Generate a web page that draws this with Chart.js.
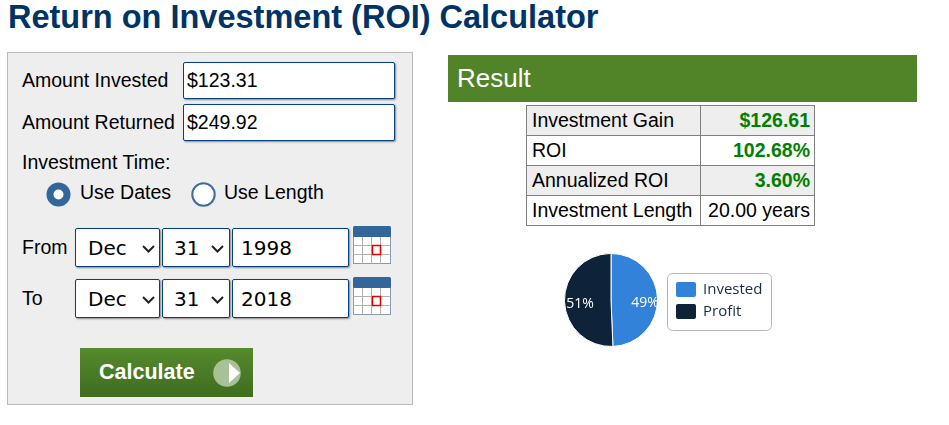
<!DOCTYPE html>
<html>
<head>
<meta charset="utf-8">
<script src="https://cdn.jsdelivr.net/npm/chart.js"></script>
<style>
  body { margin: 0; background: #fff; width: 949px; height: 425px; overflow: hidden; position: relative;
         font-family: "Liberation Sans", Arial, sans-serif; }
  .a { position: absolute; white-space: nowrap; line-height: 1; }
  .lbl { font-size: 19.5px; color: #000; }
  .box { position: absolute; box-sizing: border-box; background: #fff; border: 1px solid #044284;
         border-radius: 2px; box-shadow: 1px 1px 2px #888; }
  .mono { font-family: "DejaVu Sans", Verdana, sans-serif; font-size: 20px; color: #000; }
  .cell { position: absolute; box-sizing: border-box; border: 1px solid #808080; height: 31px;
          font-size: 19.5px; line-height: 29px; white-space: nowrap; }
  .cell.l { padding-left: 5px; }
  .cell.r { text-align: right; padding-right: 4px; }
  .g { color: #008000; font-weight: bold; }
</style>
</head>
<body>

<div class="a" style="left:8px;top:0.5px;font-size:32.5px;font-weight:bold;color:#003366;">Return on Investment (ROI) Calculator</div>

<!-- input panel -->
<div style="position:absolute;left:7px;top:52px;width:406px;height:353px;box-sizing:border-box;background:#eee;border:1px solid #bbb;"></div>

<div class="a lbl" style="left:22px;top:70.5px;">Amount Invested</div>
<div class="box" style="left:183px;top:62px;width:212px;height:37px;"></div>
<div class="a lbl" style="left:187px;top:70.5px;">$123.31</div>

<div class="a lbl" style="left:22px;top:112.5px;">Amount Returned</div>
<div class="box" style="left:183px;top:104px;width:212px;height:37px;"></div>
<div class="a lbl" style="left:187px;top:112.5px;">$249.92</div>

<div class="a lbl" style="left:22px;top:152.5px;">Investment Time:</div>

<svg style="position:absolute;left:44px;top:180px;" width="30" height="30">
  <circle cx="14.5" cy="14.5" r="12" fill="#336699"/>
  <circle cx="14.5" cy="14.5" r="5" fill="#fff"/>
</svg>
<div class="a lbl" style="left:80px;top:182.5px;">Use Dates</div>
<svg style="position:absolute;left:189px;top:180px;" width="30" height="30">
  <circle cx="14.5" cy="14.5" r="11.2" fill="#fff" stroke="#3a6ea0" stroke-width="2"/>
</svg>
<div class="a lbl" style="left:224px;top:182.5px;">Use Length</div>

<!-- From row -->
<div class="a lbl" style="left:22px;top:237.5px;">From</div>
<div class="box" style="left:75px;top:228px;width:85px;height:39px;"></div>
<div class="a mono" style="left:88px;top:238px;">Dec</div>
<svg style="position:absolute;left:141px;top:243px;" width="16" height="12"><polyline points="2,3 7.5,8.5 13,3" fill="none" stroke="#222" stroke-width="2"/></svg>
<div class="box" style="left:162px;top:228px;width:68px;height:39px;"></div>
<div class="a mono" style="left:174px;top:238px;">31</div>
<svg style="position:absolute;left:210px;top:243px;" width="16" height="12"><polyline points="2,3 7.5,8.5 13,3" fill="none" stroke="#222" stroke-width="2"/></svg>
<div class="box" style="left:232px;top:228px;width:117px;height:39px;"></div>
<div class="a mono" style="left:241px;top:238px;">1998</div>

<!-- To row -->
<div class="a lbl" style="left:22px;top:288.5px;">To</div>
<div class="box" style="left:75px;top:279px;width:85px;height:39px;"></div>
<div class="a mono" style="left:88px;top:289px;">Dec</div>
<svg style="position:absolute;left:141px;top:294px;" width="16" height="12"><polyline points="2,3 7.5,8.5 13,3" fill="none" stroke="#222" stroke-width="2"/></svg>
<div class="box" style="left:162px;top:279px;width:68px;height:39px;"></div>
<div class="a mono" style="left:174px;top:289px;">31</div>
<svg style="position:absolute;left:210px;top:294px;" width="16" height="12"><polyline points="2,3 7.5,8.5 13,3" fill="none" stroke="#222" stroke-width="2"/></svg>
<div class="box" style="left:232px;top:279px;width:117px;height:39px;"></div>
<div class="a mono" style="left:241px;top:289px;">2018</div>

<!-- calendar icons -->
<svg style="position:absolute;left:353px;top:226px;" width="38" height="38">
  <rect x="0.5" y="10.5" width="37" height="27" fill="#fff" stroke="#8a9bb0"/>
  <path d="M0.5 19.5H37.5M0.5 28.5H37.5M9.5 10.5V37.5M18.5 10.5V37.5M27.5 10.5V37.5" stroke="#b0b0b0" fill="none"/>
  <rect x="0" y="0" width="38" height="11" rx="1.5" fill="#336699"/>
  <rect x="19.5" y="19.5" width="8" height="9" fill="none" stroke="#e00000" stroke-width="1.5"/>
</svg>
<svg style="position:absolute;left:353px;top:277px;" width="38" height="38">
  <rect x="0.5" y="10.5" width="37" height="27" fill="#fff" stroke="#8a9bb0"/>
  <path d="M0.5 19.5H37.5M0.5 28.5H37.5M9.5 10.5V37.5M18.5 10.5V37.5M27.5 10.5V37.5" stroke="#b0b0b0" fill="none"/>
  <rect x="0" y="0" width="38" height="11" rx="1.5" fill="#336699"/>
  <rect x="19.5" y="19.5" width="8" height="9" fill="none" stroke="#e00000" stroke-width="1.5"/>
</svg>

<!-- calculate button -->
<div style="position:absolute;left:80px;top:348px;width:173px;height:49px;background:linear-gradient(#558a2c,#3f6d1f);"></div>
<div class="a" style="left:99px;top:361.5px;font-size:21.5px;font-weight:bold;color:#fff;">Calculate</div>
<svg style="position:absolute;left:212px;top:358px;" width="30" height="30">
  <circle cx="15" cy="15" r="13.8" fill="#a9c196"/>
  <polygon points="17,5 17,25 28,15" fill="#fff"/>
</svg>

<!-- result -->
<div style="position:absolute;left:448px;top:55px;width:469px;height:47px;background:#518428;"></div>
<div class="a" style="left:457px;top:65px;font-size:26px;color:#fff;">Result</div>

<div class="cell l" style="left:526px;top:105px;width:175px;background:#eee;">Investment Gain</div>
<div class="cell r g" style="left:700px;top:105px;width:115px;background:#eee;">$126.61</div>
<div class="cell l" style="left:526px;top:135px;width:175px;background:#fff;">ROI</div>
<div class="cell r g" style="left:700px;top:135px;width:115px;background:#fff;">102.68%</div>
<div class="cell l" style="left:526px;top:165px;width:175px;background:#eee;">Annualized ROI</div>
<div class="cell r g" style="left:700px;top:165px;width:115px;background:#eee;">3.60%</div>
<div class="cell l" style="left:526px;top:195px;width:175px;background:#fff;">Investment Length</div>
<div class="cell r" style="left:700px;top:195px;width:115px;background:#fff;">20.00 years</div>

<canvas id="pie" width="230" height="102" style="position:absolute;left:560px;top:250px;"></canvas>

<script>
// pie data
const sliceLabels = ['Invested', 'Profit'];
const sliceValues = [123.31, 126.61];
const sliceColors = ['#3182d8', '#0e223a'];

// percent text inside each slice
const pctLabels = {
  id: 'pctLabels',
  afterDatasetsDraw(chart) {
    const c = chart.ctx;
    const arcs = chart.getDatasetMeta(0).data;
    const total = sliceValues.reduce((s, v) => s + v, 0);
    c.save();
    c.font = '14px "Open Sans", sans-serif';
    c.fillStyle = '#fff';
    c.textAlign = 'center';
    c.textBaseline = 'alphabetic';
    arcs.forEach((arc, i) => {
      const mid = (arc.startAngle + arc.endAngle) / 2;
      const r = arc.outerRadius * 0.7;
      const x = arc.x + Math.cos(mid) * r;
      const y = arc.y + Math.sin(mid) * r;
      c.fillText(Math.round(sliceValues[i] / total * 100) + '%', x + 1.5, y + 7.5);
    });
    c.restore();
  }
};

// boxed legend to the right of the pie
const boxLegend = {
  id: 'boxLegend',
  afterDraw(chart) {
    const c = chart.ctx;
    const x0 = chart.chartArea.right + 9.5, y0 = 23.5;
    c.save();
    c.strokeStyle = '#b8b8b8';
    c.lineWidth = 1;
    c.beginPath();
    c.roundRect(x0, y0, 104, 57, 5);
    c.stroke();
    c.font = '15px "Open Sans", sans-serif';
    c.textBaseline = 'alphabetic';
    sliceLabels.forEach((name, i) => {
      c.fillStyle = sliceColors[i];
      c.beginPath();
      c.roundRect(x0 + 8.5, y0 + 8.5 + i * 22, 20, 15, 2);
      c.fill();
      c.fillStyle = '#1c2b45';
      c.fillText(name, x0 + 35.5, y0 + 20.5 + i * 22);
    });
    c.restore();
  }
};

new Chart(document.getElementById('pie'), {
  type: 'pie',
  data: {
    labels: sliceLabels,
    datasets: [{
      data: sliceValues,
      backgroundColor: sliceColors,
      borderColor: '#fff',
      borderWidth: 1
    }]
  },
  options: {
    responsive: false,
    animation: false,
    layout: { padding: { left: 4, top: 3, right: 132, bottom: 5 } },
    plugins: {
      legend: { display: false },
      tooltip: { enabled: false }
    }
  },
  plugins: [pctLabels, boxLegend]
});
</script>
</body>
</html>
